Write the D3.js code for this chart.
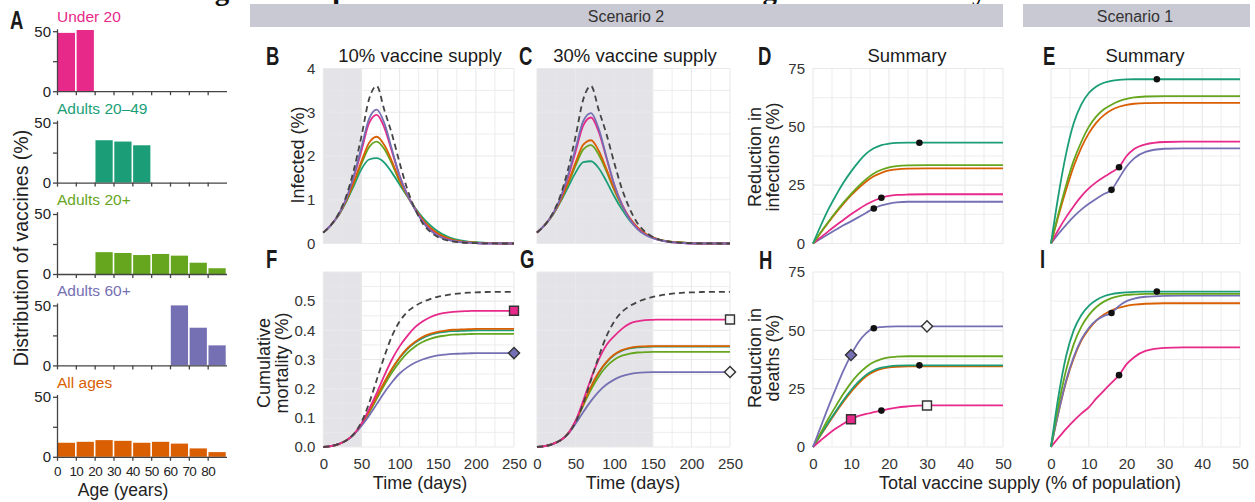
<!DOCTYPE html>
<html>
<head>
<meta charset="utf-8">
<script src="https://cdn.jsdelivr.net/npm/d3@7"></script>
<style>
  body { margin: 0; background: #fff; }
</style>
</head>
<body>
<script>
// ---------- data ----------
const groupNames = ["Under 20", "Adults 20\u201349", "Adults 20+", "Adults 60+", "All ages"];
const groupColors = ["#e7298a", "#1b9e77", "#66a61e", "#7570b3", "#d95f02"];
const ageBins = [0, 10, 20, 30, 40, 50, 60, 70, 80];
const distUnder20 = [48.6, 51, 0, 0, 0, 0, 0, 0, 0];
const distAdults2049 = [0, 0, 35.3, 34.2, 31.1, 0, 0, 0, 0];
const distAdults20p = [0, 0, 18.2, 17.5, 15.8, 16.7, 15.3, 9.4, 4.8];
const distAdults60p = [0, 0, 0, 0, 0, 0, 50, 31.4, 16.7];
const distAllAges = [11.7, 12.5, 13.9, 13.3, 11.7, 12.5, 11, 7, 3.9];

const days = [0, 10, 20, 30, 40, 50, 60, 70, 80, 90, 100, 110, 120, 130, 140, 150, 160, 170, 180, 190, 200, 210, 220, 230, 240, 250];

// infected (%), 10% supply
const noVaxInf = [.25, .42, .68, 1.08, 1.68, 2.45, 3.3, 3.6, 3.05, 2.5, 1.85, 1.25, .8, .47, .27, .15, .08, .045, .025, .014, .008, .004, .002, .001, 0, 0];
const infB_purple = [.25, .42, .66, 1.02, 1.55, 2.2, 2.85, 3.06, 2.75, 2.15, 1.55, 1.12, .78, .5, .3, .18, .1, .06, .03, .02, .01, 0, 0, 0, 0, 0];
const infB_magenta = [.25, .42, .66, 1.02, 1.52, 2.12, 2.75, 2.94, 2.65, 2.1, 1.55, 1.13, .8, .52, .32, .19, .11, .06, .03, .02, .01, 0, 0, 0, 0, 0];
const infB_orange = [.25, .42, .65, .98, 1.4, 1.88, 2.3, 2.44, 2.25, 1.88, 1.45, 1.1, .8, .55, .36, .23, .14, .08, .05, .03, .02, .01, .01, 0, 0, 0];
const infB_green = [.25, .42, .65, .97, 1.37, 1.82, 2.2, 2.33, 2.16, 1.82, 1.42, 1.09, .8, .56, .37, .24, .15, .09, .05, .03, .02, .01, .01, 0, 0, 0];
const infB_teal = [.25, .42, .64, .95, 1.32, 1.7, 1.92, 1.95, 1.85, 1.62, 1.35, 1.08, .82, .6, .42, .28, .18, .11, .07, .04, .03, .02, .01, .01, 0, 0];

// infected (%), 30% supply
const infC_purple = [.25, .42, .66, 1.02, 1.55, 2.18, 2.8, 2.98, 2.62, 1.98, 1.35, .88, .55, .33, .2, .12, .07, .04, .02, .01, 0, 0, 0, 0, 0, 0];
const infC_magenta = [.25, .42, .66, 1.01, 1.5, 2.1, 2.7, 2.88, 2.55, 1.95, 1.35, .9, .57, .35, .21, .13, .07, .04, .02, .01, 0, 0, 0, 0, 0, 0];
const infC_orange = [.25, .42, .65, .97, 1.38, 1.85, 2.26, 2.36, 2.12, 1.7, 1.25, .88, .58, .37, .23, .14, .08, .05, .03, .02, .01, 0, 0, 0, 0, 0];
const infC_green = [.25, .42, .65, .96, 1.35, 1.78, 2.15, 2.25, 2.03, 1.65, 1.22, .86, .58, .37, .23, .14, .08, .05, .03, .02, .01, 0, 0, 0, 0, 0];
const infC_teal = [.25, .42, .64, .94, 1.28, 1.62, 1.86, 1.88, 1.72, 1.42, 1.08, .78, .53, .35, .22, .14, .08, .05, .03, .02, .01, 0, 0, 0, 0, 0];

// cumulative mortality (%)
const noVaxMort = [0, .003, .01, .022, .045, .085, .15, .23, .31, .38, .43, .463, .483, .497, .507, .515, .52, .524, .527, .529, .53, .531, .532, .532, .532, .532];
const mortF_magenta = [0, .003, .01, .022, .044, .08, .13, .185, .245, .3, .345, .38, .41, .43, .445, .455, .46, .463, .465, .466, .467, .467, .467, .467, .467, .467];
const mortF_orange = [0, .003, .01, .022, .043, .077, .122, .172, .222, .268, .307, .338, .36, .377, .388, .395, .399, .402, .403, .404, .405, .405, .405, .405, .405, .405];
const mortF_teal = [0, .003, .01, .022, .043, .077, .12, .17, .22, .266, .305, .335, .357, .373, .384, .391, .395, .397, .398, .399, .4, .4, .4, .4, .4, .4];
const mortF_green = [0, .003, .01, .022, .043, .076, .118, .165, .212, .255, .292, .322, .344, .36, .371, .378, .382, .385, .386, .387, .388, .388, .388, .388, .388, .388];
const mortF_purple = [0, .003, .01, .022, .042, .072, .107, .147, .187, .222, .252, .273, .289, .3, .308, .314, .317, .319, .32, .321, .322, .322, .322, .322, .322, .322];

const mortG_magenta = [0, .003, .01, .022, .045, .09, .16, .235, .3, .35, .38, .405, .423, .431, .435, .436, .437, .437, .437, .437, .437, .437, .437, .437, .437, .437];
const mortG_orange = [0, .003, .01, .022, .045, .088, .148, .207, .256, .292, .317, .332, .34, .344, .345, .346, .346, .346, .346, .346, .346, .346, .346, .346, .346, .346];
const mortG_teal = [0, .003, .01, .022, .045, .088, .147, .205, .254, .29, .315, .33, .338, .342, .343, .344, .344, .344, .344, .344, .344, .344, .344, .344, .344, .344];
const mortG_green = [0, .003, .01, .022, .045, .087, .143, .197, .242, .276, .299, .313, .32, .324, .325, .326, .326, .326, .326, .326, .326, .326, .326, .326, .326, .326];
const mortG_purple = [0, .003, .01, .022, .044, .08, .12, .158, .19, .214, .231, .243, .25, .254, .256, .257, .257, .257, .257, .257, .257, .257, .257, .257, .257, .257];

// summaries vs total vaccine supply
const supply = [0, 2, 4, 6, 8, 10, 12, 14, 16, 18, 20, 22, 25, 30, 35, 40, 45, 50];
const redInfS2_teal = [0, 7.5, 14.5, 20.5, 26, 30.8, 35, 38.5, 40.8, 42.2, 42.8, 43.1, 43.2, 43.2, 43.2, 43.2, 43.2, 43.2];
const redInfS2_green = [0, 4.7, 9.2, 13.5, 17.5, 21.2, 24.6, 27.6, 30, 31.6, 32.6, 33.2, 33.5, 33.6, 33.6, 33.6, 33.6, 33.6];
const redInfS2_orange = [0, 4.5, 8.9, 13.1, 17, 20.6, 23.8, 26.6, 28.8, 30.3, 31.3, 31.8, 32.1, 32.2, 32.2, 32.2, 32.2, 32.2];
const redInfS2_magenta = [0, 2.6, 5.2, 7.7, 10.1, 12.5, 14.7, 16.7, 18.3, 19.6, 20.4, 20.8, 21, 21.1, 21.1, 21.1, 21.1, 21.1];
const redInfS2_purple = [0, 2, 4, 5.9, 7.8, 9.5, 11.3, 13.2, 15, 16.3, 17.1, 17.6, 17.9, 17.9, 17.9, 17.9, 17.9, 17.9];

const redDthS2_purple = [0, 8.5, 17, 25, 32.7, 39.4, 45, 48.8, 50.9, 51.4, 51.6, 51.7, 51.7, 51.7, 51.7, 51.7, 51.7, 51.7];
const redDthS2_green = [0, 6, 12, 17.5, 22.8, 27.5, 31.3, 34.3, 36.4, 37.7, 38.4, 38.7, 38.9, 38.9, 38.9, 38.9, 38.9, 38.9];
const redDthS2_teal = [0, 5.2, 10.4, 15.3, 20, 24.3, 28, 30.9, 32.9, 34, 34.6, 34.9, 35, 35, 35, 35, 35, 35];
const redDthS2_orange = [0, 5, 10, 14.8, 19.4, 23.6, 27.3, 30.3, 32.3, 33.5, 34.1, 34.4, 34.6, 34.6, 34.6, 34.6, 34.6, 34.6];
const redDthS2_magenta = [0, 2.8, 5.5, 7.9, 10, 11.9, 13.3, 14.2, 14.9, 15.6, 16.3, 16.9, 17.4, 17.8, 17.8, 17.8, 17.8, 17.8];

const redInfS1_teal = [0, 21, 38.5, 51.5, 59.5, 64.5, 67.3, 68.9, 69.7, 70.1, 70.3, 70.4, 70.4, 70.4, 70.4, 70.4, 70.4, 70.4];
const redInfS1_green = [0, 13, 25, 35.5, 43.5, 50, 54.5, 57.5, 59.5, 61, 62, 62.6, 63, 63.2, 63.2, 63.2, 63.2, 63.2];
const redInfS1_orange = [0, 12, 23, 33, 41, 47.2, 51.8, 55, 57.2, 58.6, 59.4, 59.9, 60.2, 60.3, 60.3, 60.3, 60.3, 60.3];
const redInfS1_magenta = [0, 6, 11.3, 16, 20.2, 23.6, 26.3, 28.5, 30.5, 32.7, 37.5, 40.5, 42.5, 43.5, 43.7, 43.7, 43.7, 43.7];
const redInfS1_purple = [0, 4.2, 8, 11.5, 14.5, 17, 19.2, 21.2, 23, 28, 33, 36.5, 39.3, 40.6, 40.8, 40.8, 40.8, 40.8];

const redDthS1_teal = [0, 22, 39, 50, 56.5, 60.5, 63, 64.6, 65.5, 66, 66.3, 66.5, 66.6, 66.6, 66.6, 66.6, 66.6, 66.6];
const redDthS1_green = [0, 18, 33, 44, 51.5, 56.5, 60, 62.3, 63.8, 64.7, 65.2, 65.4, 65.6, 65.6, 65.6, 65.6, 65.6, 65.6];
const redDthS1_orange = [0, 15, 28, 38, 45.5, 50.5, 54.2, 56.8, 58.5, 59.7, 60.5, 61, 61.4, 61.6, 61.6, 61.6, 61.6, 61.6];
const redDthS1_purple = [0, 15, 28.5, 38.5, 46, 51, 54.3, 56.2, 57.4, 60.5, 62.5, 63.6, 64.4, 64.8, 64.9, 64.9, 64.9, 64.9];
const redDthS1_magenta = [0, 4, 7.8, 11.2, 14.3, 17, 20.8, 24.2, 27.5, 30.8, 35.5, 38.5, 41.2, 42.5, 42.7, 42.7, 42.7, 42.7];

// optimal-strategy dots [supply, value]
const dotsD = [[28, 43.2], [18, 19.6], [16, 15.0]];
const dotsE = [[28, 70.4], [18, 32.7], [16, 23.0]];
const dotsH = [[16, 50.9], [28, 35.0], [18, 15.6]];
const dotsI = [[28, 66.6], [16, 57.4], [18, 30.8]];

// ---------- drawing ----------
const font = '"Liberation Sans", Arial, Helvetica, sans-serif';
const svg = d3.select("body").append("svg").attr("width", 1255).attr("height", 502)
  .attr("font-family", font);

const [cMag, cTeal, cGreen, cPurp, cOrg] = groupColors;

// figure title, cut off at the top edge as in the source image
svg.append("text")
  .attr("x", 189).attr("y", 0)
  .attr("font-family", '"Liberation Serif", "Times New Roman", serif')
  .attr("font-weight", "bold").attr("font-size", 29).attr("fill", "#111")
  .text("Fig. 2. Comparison of vaccine allocation strategies and mortality");

// scenario headers
svg.append("rect").attr("x", 250).attr("y", 4).attr("width", 753).attr("height", 23).attr("fill", "#c9c9d3");
svg.append("rect").attr("x", 1023).attr("y", 4).attr("width", 227).attr("height", 23).attr("fill", "#c9c9d3");
svg.append("text").attr("x", 626).attr("y", 22).attr("text-anchor", "middle").attr("font-size", 16).attr("fill", "#333").text("Scenario 2");
svg.append("text").attr("x", 1135).attr("y", 22).attr("text-anchor", "middle").attr("font-size", 16).attr("fill", "#333").text("Scenario 1");

function letter(t, x, y) {
  svg.append("text")
    .attr("transform", `translate(${x},${y}) scale(0.74,1)`)
    .attr("font-weight", "bold").attr("font-size", 25).attr("fill", "#1a1a1a")
    .text(t);
}

function yTitle(lines, x, cy, size) {
  const t = svg.append("text")
    .attr("transform", `translate(${x},${cy}) rotate(-90)`)
    .attr("text-anchor", "middle").attr("font-size", size).attr("fill", "#222");
  lines.forEach((l, i) => t.append("tspan").attr("x", 0).attr("dy", i ? "0.98em" : 0).text(l));
}

function xTitle(t, cx, y, size) {
  svg.append("text").attr("x", cx).attr("y", y).attr("text-anchor", "middle")
    .attr("font-size", size || 18).attr("fill", "#222").text(t);
}

function title(t, cx, y) {
  svg.append("text").attr("x", cx).attr("y", y).attr("text-anchor", "middle")
    .attr("font-size", 18.5).attr("fill", "#1a1a1a").text(t);
}

// ----- panel A -----
const distributions = [distUnder20, distAdults2049, distAdults20p, distAdults60p, distAllAges];
const aX = d3.scaleLinear().domain([0, 90]).range([57, 226.5]);

groupNames.forEach((name, i) => {
  const base = 91.2 + i * 91.4;
  const y = d3.scaleLinear().domain([0, 52]).range([base, base - 62.4]);
  const g = svg.append("g");

  g.selectAll("rect").data(distributions[i]).join("rect")
    .attr("x", (d, j) => aX(ageBins[j]) + 0.8)
    .attr("width", aX(10) - aX(0) - 1.6)
    .attr("y", d => y(d))
    .attr("height", d => base - y(d))
    .attr("fill", groupColors[i]);

  const xa = g.append("g").attr("transform", `translate(0,${base})`)
    .call(d3.axisBottom(aX).tickValues(ageBins).tickSize(4).tickSizeOuter(0).tickPadding(6)
      .tickFormat(i === 4 ? d => d : () => ""));
  const ya = g.append("g").attr("transform", `translate(${aX(0)},0)`)
    .call(d3.axisLeft(y).tickValues([0, 25, 50]).tickSize(4).tickSizeOuter(0).tickPadding(2)
      .tickFormat(d => d === 25 ? "" : d));
  [xa, ya].forEach(a => {
    a.attr("color", "#444").attr("font-family", font).attr("font-size", 15);
    a.selectAll("path, line").attr("stroke-width", 1.3);
    a.selectAll("text").attr("fill", "#222");
  });
  xa.selectAll("text").attr("font-size", 13.5).attr("letter-spacing", -0.6);

  g.append("text").attr("x", aX(0)).attr("y", y(50) - 9)
    .attr("font-size", 15.5).attr("fill", groupColors[i]).text(name);
});
letter("A", 10, 29);
yTitle(["Distribution of vaccines (%)"], 28, 248, 19.5);
xTitle("Age (years)", 123, 496, 17.5);

// ----- line panels -----
function linePanel(o) {
  const x = d3.scaleLinear().domain(o.xDomain).range(o.xRange);
  const y = d3.scaleLinear().domain(o.yDomain).range(o.yRange);
  const g = svg.append("g");
  const [top, bot] = [o.yRange[1], o.yRange[0]];

  if (o.shade) {
    g.append("rect")
      .attr("x", x(o.shade[0])).attr("y", top)
      .attr("width", x(o.shade[1]) - x(o.shade[0])).attr("height", bot - top)
      .attr("fill", "#e4e4e8");
  }
  g.selectAll(".gx").data(o.xGrid).join("line").attr("class", "gx")
    .attr("x1", d => x(d)).attr("x2", d => x(d)).attr("y1", bot).attr("y2", top)
    .attr("stroke", "#e9e9e9").attr("stroke-width", (d, i) => i % 2 ? 0.8 : 1.1);
  g.selectAll(".gy").data(o.yGrid).join("line").attr("class", "gy")
    .attr("y1", d => y(d)).attr("y2", d => y(d)).attr("x1", o.xRange[0]).attr("x2", o.xRange[1])
    .attr("stroke", "#e9e9e9").attr("stroke-width", (d, i) => i % 2 ? 0.8 : 1.1);

  if (o.yTicks) {
    const a = g.append("g").attr("transform", `translate(${o.xRange[0]},0)`)
      .call(d3.axisLeft(y).tickValues(o.yTicks).tickFormat(o.yFormat || (d => d)).tickSize(0).tickPadding(8));
    a.select(".domain").remove();
    a.attr("font-family", font).attr("font-size", 15).selectAll("text").attr("fill", "#333");
  }
  if (o.xTicks) {
    const a = g.append("g").attr("transform", `translate(0,${bot})`)
      .call(d3.axisBottom(x).tickValues(o.xTicks).tickSize(0).tickPadding(11));
    a.select(".domain").remove();
    a.attr("font-family", font).attr("font-size", 15).selectAll("text").attr("fill", "#333");
  }

  const line = d3.line().x((d, i) => x(o.xs[i])).y(d => y(d)).curve(d3.curveMonotoneX);
  o.series.forEach(s => {
    g.append("path").attr("d", line(s.values))
      .attr("fill", "none").attr("stroke", s.color)
      .attr("stroke-width", 1.8)
      .attr("stroke-dasharray", s.dash || null);
  });

  (o.dots || []).forEach(d => {
    g.append("circle").attr("cx", x(d[0])).attr("cy", y(d[1])).attr("r", 3.3).attr("fill", "#111");
  });
  (o.markers || []).forEach(m => {
    const isDiamond = m.shape === "diamond";
    g.append("path")
      .attr("d", d3.symbol(d3.symbolSquare, isDiamond ? 62 : 80)())
      .attr("transform", `translate(${x(m.x)},${y(m.y)})` + (isDiamond ? " rotate(45)" : ""))
      .attr("fill", m.fill).attr("stroke", "#333").attr("stroke-width", 1.4);
  });
  return { x, y, g };
}

const topRow = [243.5, 68.5], botRow = [447, 272];
const colB = [323.3, 514], colC = [537, 730], colD = [813, 1003], colE = [1051, 1240];
const dayGrid = d3.range(0, 251, 25);
const supplyGrid = d3.range(0, 51, 5);
const dash = "6,4";

// B
linePanel({
  xDomain: [0, 250], xRange: colB, yDomain: [0, 4], yRange: topRow, shade: [0, 50],
  xGrid: dayGrid, yGrid: d3.range(0, 4.01, 0.5), yTicks: [0, 1, 2, 3, 4], xs: days,
  series: [
    { values: infB_teal, color: cTeal }, { values: infB_green, color: cGreen },
    { values: infB_orange, color: cOrg }, { values: infB_magenta, color: cMag },
    { values: infB_purple, color: cPurp }, { values: noVaxInf, color: "#444", dash }
  ]
});
// C
linePanel({
  xDomain: [0, 250], xRange: colC, yDomain: [0, 4], yRange: topRow, shade: [0, 150],
  xGrid: dayGrid, yGrid: d3.range(0, 4.01, 0.5), xs: days,
  series: [
    { values: infC_teal, color: cTeal }, { values: infC_green, color: cGreen },
    { values: infC_orange, color: cOrg }, { values: infC_magenta, color: cMag },
    { values: infC_purple, color: cPurp }, { values: noVaxInf, color: "#444", dash }
  ]
});
// F
linePanel({
  xDomain: [0, 250], xRange: colB, yDomain: [0, 0.6], yRange: botRow, shade: [0, 50],
  xGrid: dayGrid, yGrid: d3.range(0, 0.601, 0.05), yTicks: [0, 0.1, 0.2, 0.3, 0.4, 0.5],
  yFormat: d3.format(".1f"), xTicks: [0, 50, 100, 150, 200, 250], xs: days,
  series: [
    { values: mortF_teal, color: cTeal }, { values: mortF_green, color: cGreen },
    { values: mortF_orange, color: cOrg }, { values: mortF_purple, color: cPurp },
    { values: mortF_magenta, color: cMag }, { values: noVaxMort, color: "#444", dash }
  ],
  markers: [
    { x: 250, y: mortF_magenta[25], shape: "square", fill: cMag },
    { x: 250, y: mortF_purple[25], shape: "diamond", fill: cPurp }
  ]
});
// G
linePanel({
  xDomain: [0, 250], xRange: colC, yDomain: [0, 0.6], yRange: botRow, shade: [0, 150],
  xGrid: dayGrid, yGrid: d3.range(0, 0.601, 0.05), xTicks: [0, 50, 100, 150, 200, 250], xs: days,
  series: [
    { values: mortG_teal, color: cTeal }, { values: mortG_green, color: cGreen },
    { values: mortG_orange, color: cOrg }, { values: mortG_purple, color: cPurp },
    { values: mortG_magenta, color: cMag }, { values: noVaxMort, color: "#444", dash }
  ],
  markers: [
    { x: 250, y: mortG_magenta[25], shape: "square", fill: "#f6f6f6" },
    { x: 250, y: mortG_purple[25], shape: "diamond", fill: "#f6f6f6" }
  ]
});
// D
linePanel({
  xDomain: [0, 50], xRange: colD, yDomain: [0, 75], yRange: topRow,
  xGrid: supplyGrid, yGrid: d3.range(0, 75.1, 12.5), yTicks: [0, 25, 50, 75], xs: supply,
  series: [
    { values: redInfS2_purple, color: cPurp }, { values: redInfS2_magenta, color: cMag },
    { values: redInfS2_orange, color: cOrg }, { values: redInfS2_green, color: cGreen },
    { values: redInfS2_teal, color: cTeal }
  ],
  dots: dotsD
});
// H
linePanel({
  xDomain: [0, 50], xRange: colD, yDomain: [0, 75], yRange: botRow,
  xGrid: supplyGrid, yGrid: d3.range(0, 75.1, 12.5), yTicks: [0, 25, 50, 75],
  xTicks: [0, 10, 20, 30, 40, 50], xs: supply,
  series: [
    { values: redDthS2_orange, color: cOrg }, { values: redDthS2_teal, color: cTeal },
    { values: redDthS2_green, color: cGreen }, { values: redDthS2_magenta, color: cMag },
    { values: redDthS2_purple, color: cPurp }
  ],
  dots: dotsH,
  markers: [
    { x: 10, y: redDthS2_magenta[5], shape: "square", fill: cMag },
    { x: 10, y: redDthS2_purple[5], shape: "diamond", fill: cPurp },
    { x: 30, y: redDthS2_magenta[13], shape: "square", fill: "#f6f6f6" },
    { x: 30, y: redDthS2_purple[13], shape: "diamond", fill: "#f6f6f6" }
  ]
});
// E
linePanel({
  xDomain: [0, 50], xRange: colE, yDomain: [0, 75], yRange: topRow,
  xGrid: supplyGrid, yGrid: d3.range(0, 75.1, 12.5), xs: supply,
  series: [
    { values: redInfS1_purple, color: cPurp }, { values: redInfS1_magenta, color: cMag },
    { values: redInfS1_orange, color: cOrg }, { values: redInfS1_green, color: cGreen },
    { values: redInfS1_teal, color: cTeal }
  ],
  dots: dotsE
});
// I
linePanel({
  xDomain: [0, 50], xRange: colE, yDomain: [0, 75], yRange: botRow,
  xGrid: supplyGrid, yGrid: d3.range(0, 75.1, 12.5), xTicks: [0, 10, 20, 30, 40, 50], xs: supply,
  series: [
    { values: redDthS1_magenta, color: cMag }, { values: redDthS1_orange, color: cOrg },
    { values: redDthS1_purple, color: cPurp }, { values: redDthS1_green, color: cGreen },
    { values: redDthS1_teal, color: cTeal }
  ],
  dots: dotsI
});

// letters, titles, axis titles
letter("B", 266, 65); letter("C", 519, 65); letter("D", 758, 65); letter("E", 1043, 65);
letter("F", 266, 268); letter("G", 520, 268); letter("H", 759, 269); letter("I", 1040, 268);

title("10% vaccine supply", 420, 62);
title("30% vaccine supply", 635, 62);
title("Summary", 907, 62);
title("Summary", 1145, 62);

yTitle(["Infected (%)"], 304, 155, 18);
yTitle(["Cumulative", "mortality (%)"], 270, 363, 18);
yTitle(["Reduction in", "infections (%)"], 761, 157, 18);
yTitle(["Reduction in", "deaths (%)"], 761, 358, 18);

xTitle("Time (days)", 420, 489);
xTitle("Time (days)", 633, 489);
xTitle("Total vaccine supply (% of population)", 1030, 489);
</script>
</body>
</html>
